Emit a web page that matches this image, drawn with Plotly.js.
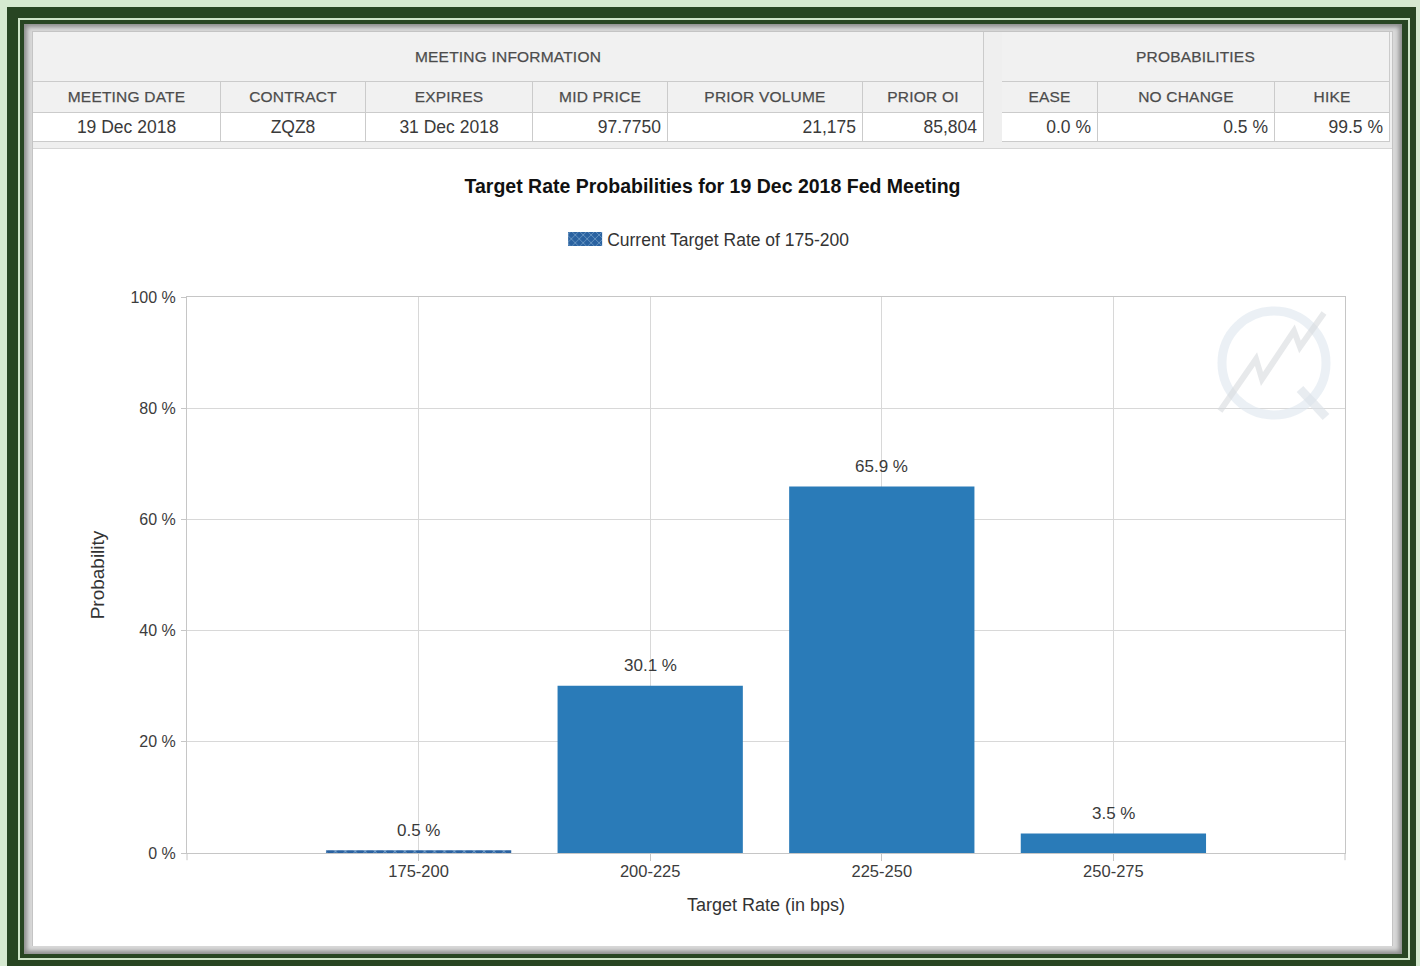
<!DOCTYPE html>
<html>
<head>
<meta charset="utf-8">
<script src="https://cdn.plot.ly/plotly-3.0.1.min.js"></script>
<style>
  html, body { margin:0; padding:0; }
  body { width:1420px; height:966px; position:relative; overflow:hidden; background:#d6e9d0; font-family:"Liberation Sans", Arial, sans-serif; }
  .abs { position:absolute; box-sizing:border-box; }
  #frameOuter { left:7px; top:7px; width:1409px; height:959px; background:#284522; }
  #frameLine { left:18px; top:18px; width:1392px; height:942px; border:2px solid #cfe4c8; background:#284522; }
  #bevel { left:24px; top:24px; width:1378px; height:930px; background:#d8d8d8; box-shadow: inset 0 0 4px 3px #8c8c8c; }
  #panel { left:32px; top:31px; width:1361px; height:915px; background:#efefef; border:1px solid #c4c4c4; }
  .cell { position:absolute; box-sizing:border-box; border-right:1px solid #cbcbcb; border-bottom:1px solid #cbcbcb; color:#4a4a4a; white-space:nowrap; overflow:hidden; }
  .hdr { background:#f1f1f1; font-size:15.5px; text-align:center; -webkit-text-stroke:0.25px #555; letter-spacing:0.2px; }
  .val { background:#ffffff; font-size:17.5px; color:#3a3a3a; }
  #chartBox { left:33px; top:148px; width:1359px; height:797px; background:#fff; border-top:1px solid #d6d6d6; }
  #chart { position:absolute; left:0; top:0; width:1359px; height:797px; }
</style>
</head>
<body>
<div id="frameOuter" class="abs"></div>
<div id="frameLine" class="abs"></div>
<div id="bevel" class="abs"></div>
<div id="panel" class="abs"></div>
<div id="tables"></div>
<div id="chartBox" class="abs"><div id="chart"></div></div>
<script>
// ---------- table data ----------
const meetingGroupTitle = 'MEETING INFORMATION';
const meetingColumns = ['MEETING DATE', 'CONTRACT', 'EXPIRES', 'MID PRICE', 'PRIOR VOLUME', 'PRIOR OI'];
const meetingValues = ['19 Dec 2018', 'ZQZ8', '31 Dec 2018', '97.7750', '21,175', '85,804'];
const probGroupTitle = 'PROBABILITIES';
const probColumns = ['EASE', 'NO CHANGE', 'HIKE'];
const probValues = ['0.0 %', '0.5 %', '99.5 %'];

// ---------- chart data ----------
const rateBuckets = ['175-200', '200-225', '225-250', '250-275'];
const probabilities = [0.5, 30.1, 65.9, 3.5];
const currentBucket = '175-200';
const yTickValues = [0, 20, 40, 60, 80, 100];
const chartTitle = 'Target Rate Probabilities for 19 Dec 2018 Fed Meeting';
const legendLabel = 'Current Target Rate of 175-200';
const xTitle = 'Target Rate (in bps)';
const yTitle = 'Probability';

// ---------- build tables (layout only) ----------
function buildGroup(left, widths, title, cols, vals, aligns) {
  const host = document.getElementById('tables');
  const total = widths.reduce((a, b) => a + b, 0);
  const rowTops = [32, 82, 113];
  const rowHs = [50, 31, 29];
  const box = document.createElement('div');
  box.className = 'abs';
  box.style.cssText = `left:${left}px;top:32px;width:${total}px;height:110px;border-left:1px solid #cbcbcb;border-top:1px solid #cbcbcb;`;
  host.appendChild(box);
  const mk = (cls, x, y, w, h, txt, align) => {
    const d = document.createElement('div');
    d.className = 'cell ' + cls;
    d.style.left = x + 'px'; d.style.top = y + 'px';
    d.style.width = w + 'px'; d.style.height = h + 'px';
    d.style.lineHeight = (h - 1) + 'px';
    d.style.textAlign = align || 'center';
    if (align === 'right') d.style.paddingRight = '6px';
    d.textContent = txt;
    document.body.appendChild(d);
  };
  mk('hdr', left, rowTops[0], total, rowHs[0], title, 'center');
  let x = left;
  cols.forEach((c, i) => {
    mk('hdr', x, rowTops[1], widths[i], rowHs[1], c, 'center');
    mk('val', x, rowTops[2], widths[i], rowHs[2], vals[i], aligns[i]);
    x += widths[i];
  });
}
buildGroup(33, [188, 145, 167, 135, 195, 121], meetingGroupTitle, meetingColumns, meetingValues,
  ['center', 'center', 'center', 'right', 'right', 'right']);
buildGroup(1002, [96, 177, 115], probGroupTitle, probColumns, probValues, ['right', 'right', 'right']);

// ---------- chart ----------
const FONT = '"Liberation Sans", Arial, sans-serif';
const barColor = '#2a7bb8';
const curX = [], curY = [], othX = [], othY = [];
rateBuckets.forEach((b, i) => {
  if (b === currentBucket) { curX.push(b); curY.push(probabilities[i]); }
  else { othX.push(b); othY.push(probabilities[i]); }
});

const traces = [
  {
    type: 'bar', x: curX, y: curY, name: legendLabel, width: 0.8,
    marker: { color: '#2a62a0', line: { width: 0 },
      pattern: { shape: 'x', fgcolor: '#bfe0f6', bgcolor: '#2a62a0', size: 7, solidity: 0.25, fillmode: 'overlay' } },
    hoverinfo: 'skip'
  },
  {
    type: 'bar', x: othX, y: othY, name: 'Probability', showlegend: false, width: 0.8,
    marker: { color: barColor, line: { width: 0 } }, hoverinfo: 'skip'
  }
];

const annotations = rateBuckets.map((b, i) => ({
  x: b, y: probabilities[i], xref: 'x', yref: 'y',
  text: probabilities[i].toFixed(1) + ' %', showarrow: false,
  yanchor: 'middle', yshift: 20,
  font: { family: FONT, size: 17, color: '#3a3a3a' }
}));

// watermark helper (image pixel coords -> paper coords of plot area)
const PL = 187, PR = 1345, PT = 296, PB = 852;
const px = v => (v - PL) / (PR - PL);
const py = v => (PB - v) / (PB - PT);
const shapes = [
  { type: 'circle', xref: 'paper', yref: 'paper', x0: px(1222), x1: px(1326), y0: py(414), y1: py(310),
    line: { color: 'rgba(222,230,238,0.6)', width: 9 }, layer: 'above' },
  { type: 'line', xref: 'paper', yref: 'paper', x0: px(1300), y0: py(388), x1: px(1326), y1: py(416),
    line: { color: 'rgba(220,226,232,0.65)', width: 9 }, layer: 'above' },
  { type: 'path', xref: 'paper', yref: 'paper',
    path: `M${px(1220)},${py(410)} L${px(1256)},${py(358)} L${px(1262)},${py(378)} L${px(1294)},${py(330)} L${px(1300)},${py(346)} L${px(1324)},${py(312)}`,
    line: { color: 'rgba(215,218,222,0.6)', width: 6 }, layer: 'above' },
  // boundary ticks below the x axis at the plot edges
  { type: 'line', xref: 'paper', yref: 'paper', x0: 0, x1: 0, y0: 0, y1: -0.013, line: { color: '#c6c6c6', width: 1 } },
  { type: 'line', xref: 'paper', yref: 'paper', x0: 1, x1: 1, y0: 0, y1: -0.013, line: { color: '#c6c6c6', width: 1 } }
];

const layout = {
  width: 1359, height: 797,
  margin: { l: 154, r: 47, t: 148, b: 93, pad: 0, autoexpand: false },
  paper_bgcolor: '#ffffff', plot_bgcolor: '#ffffff',
  font: { family: FONT, size: 15, color: '#3c3c3c' },
  title: {
    text: chartTitle, xref: 'container', x: 0.5, xanchor: 'center',
    yref: 'container', y: 1 - 37 / 797, yanchor: 'middle',
    font: { family: FONT, size: 19.5, color: '#111', weight: 'bold' }
  },
  showlegend: true,
  legend: {
    orientation: 'h', xref: 'container', x: 0.499, xanchor: 'center',
    yref: 'container', y: 1 - 90 / 797, yanchor: 'middle',
    font: { family: FONT, size: 17.5, color: '#333' }, bgcolor: 'rgba(0,0,0,0)', itemwidth: 30
  },
  barmode: 'overlay',
  xaxis: {
    type: 'category', categoryorder: 'array', categoryarray: rateBuckets,
    range: [-1, 4], fixedrange: true, automargin: false,
    showgrid: true, gridcolor: '#d8d8d8', gridwidth: 1,
    showline: true, linecolor: '#c6c6c6', linewidth: 1, mirror: true,
    ticks: 'outside', ticklen: 7, tickcolor: '#c6c6c6', ticklabelstandoff: -4,
    tickfont: { family: FONT, size: 16.5, color: '#3c3c3c' },
    title: { text: xTitle, standoff: 19, font: { family: FONT, size: 18, color: '#333' } }
  },
  yaxis: {
    range: [0, 100], tickvals: yTickValues, ticktext: yTickValues.map(v => v + ' %'),
    fixedrange: true, automargin: false, showgrid: true, gridcolor: '#d8d8d8', gridwidth: 1,
    zeroline: false, showline: true, linecolor: '#c6c6c6', linewidth: 1, mirror: true,
    ticks: 'outside', ticklen: 5, tickcolor: '#c6c6c6', ticklabelstandoff: 2,
    tickfont: { family: FONT, size: 16, color: '#3c3c3c' },
    title: { text: yTitle, standoff: 20, font: { family: FONT, size: 19, color: '#333' } }
  },
  annotations: annotations,
  shapes: shapes
};

// widen the legend key (default path is centred at x=20 of the legend item)
function widenLegendKey(gd) {
  gd.querySelectorAll('.legendpoints path').forEach(p => {
    p.setAttribute('d', 'M15,7H-19V-7H15Z');
    p.setAttribute('transform', 'translate(20,0)');
  });
}
const gdEl = document.getElementById('chart');
Plotly.newPlot(gdEl, traces, layout, { displayModeBar: false, staticPlot: true }).then(gd => {
  widenLegendKey(gd);
  gd.on('plotly_afterplot', () => widenLegendKey(gd));
  setTimeout(() => widenLegendKey(gd), 300);
});
</script>
</body>
</html>
